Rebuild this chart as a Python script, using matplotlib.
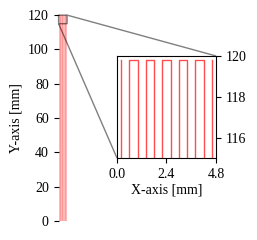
import numpy as np
import matplotlib
matplotlib.use("Agg")
import matplotlib.pyplot as plt

plt.rcParams['font.family'] = 'serif'
plt.rcParams['font.serif'] = ['Liberation Serif', 'DejaVu Serif']
plt.rcParams['font.size'] = 10

# Serpentine tool path (mm)
pass_x = [0.2, 0.6, 1.0, 1.4, 1.8, 2.2, 2.6, 3.0, 3.4, 3.8, 4.2, 4.6]
y_low = 0.2
y_high = 119.8

# build the zig-zag: start top of first pass, go down, over, up, ...
px, py = [], []
for i, x in enumerate(pass_x):
    if i % 2 == 0:
        px += [x, x]
        py += [y_high, y_low]
    else:
        px += [x, x]
        py += [y_low, y_high]

fig = plt.figure(figsize=(2.57, 2.40), dpi=100)

ax = fig.add_axes([0.228, 0.079, 0.033, 0.858])
ax.plot(px, py, color='red', lw=0.5, alpha=0.4)
ax.set_xlim(0, 4.8)
ax.set_ylim(0, 120)
ax.set_xticks([])
ax.set_yticks([0, 20, 40, 60, 80, 100, 120])
for s in ['top', 'right', 'bottom', 'left']:
    ax.spines[s].set_visible(False)
ax.set_ylabel("Y-axis [mm]")

axins = fig.add_axes([0.455, 0.342, 0.385, 0.425])
axins.plot(px, py, color='red', lw=1.0, alpha=0.7)
axins.set_xlim(0, 4.8)
axins.set_ylim(115, 120)
axins.set_xticks([0.0, 2.4, 4.8])
axins.set_xticklabels(["0.0", "2.4", "4.8"])
axins.set_yticks([116, 118, 120])
axins.yaxis.tick_right()
axins.set_xlabel("X-axis [mm]", labelpad=2)

ax.indicate_inset_zoom(axins, edgecolor='black', lw=1.0)

fig.savefig("out.png", dpi=100)
